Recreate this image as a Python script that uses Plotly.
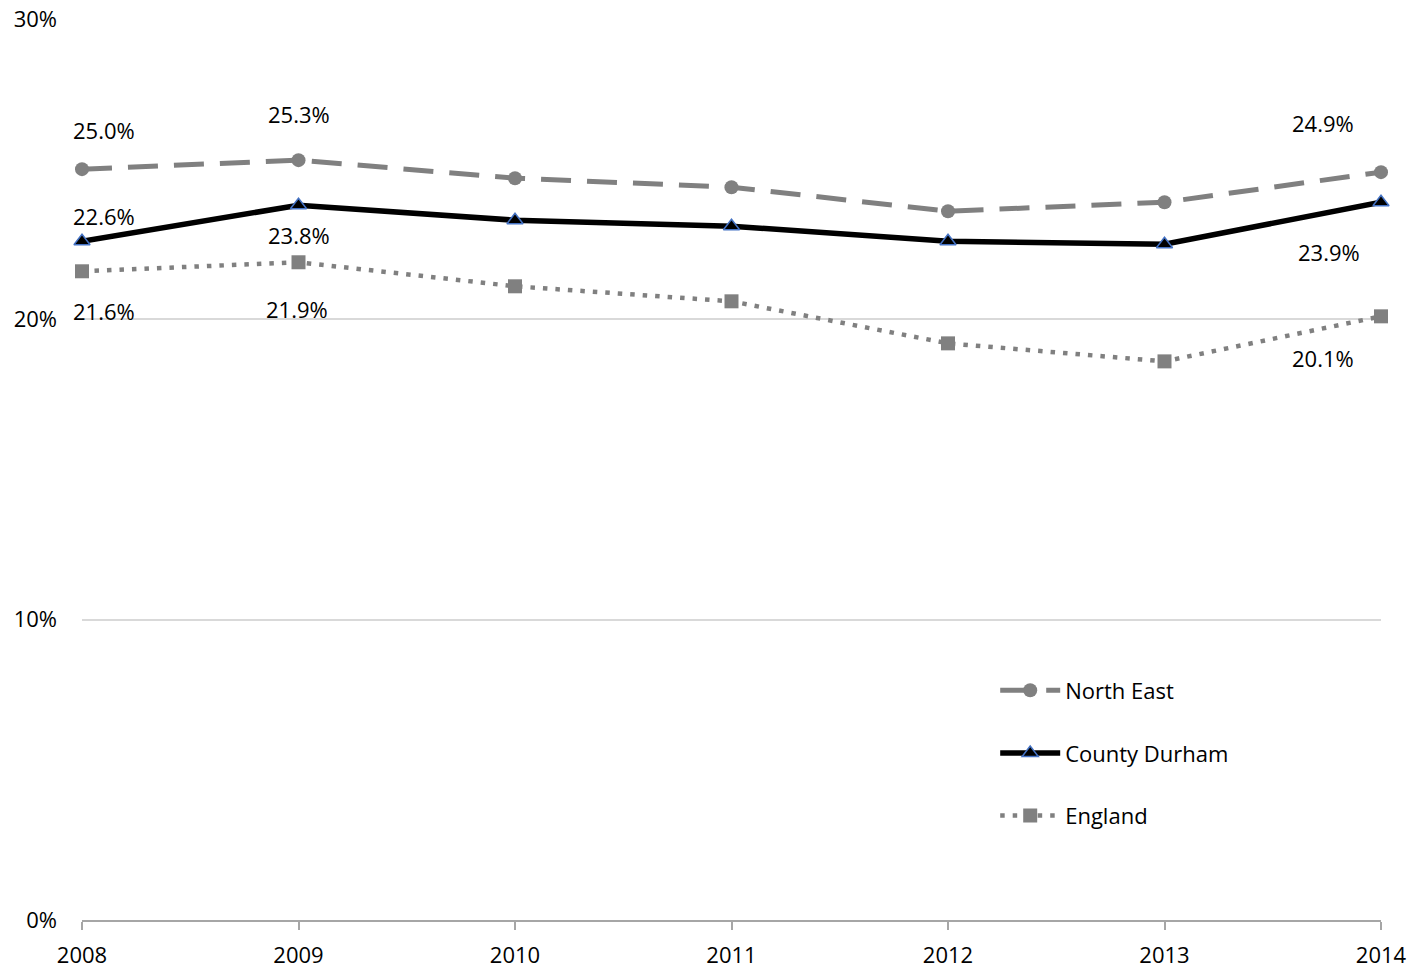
import plotly.graph_objects as go

years = [2008, 2009, 2010, 2011, 2012, 2013, 2014]
north_east = [25.0, 25.3, 24.7, 24.4, 23.6, 23.9, 24.9]
county_durham = [22.6, 23.8, 23.3, 23.1, 22.6, 22.5, 23.9]
england = [21.6, 21.9, 21.1, 20.6, 19.2, 18.6, 20.1]
y_ticks = [0, 10, 20, 30]
y_tick_labels = ["0%", "10%", "20%", "30%"]

FONT = "Open Sans"
GREY = "#808080"

fig = go.Figure()
fig.add_trace(go.Scatter(
    x=years, y=north_east, name="North East", mode="lines+markers", legendgroup="a",
    line=dict(color=GREY, width=5, dash="30px,16px"), cliponaxis=False,
    marker=dict(symbol="circle", size=14, color=GREY),
))
fig.add_trace(go.Scatter(
    x=years, y=county_durham, name="County Durham", mode="lines+markers", legendgroup="b",
    line=dict(color="black", width=5.5), cliponaxis=False,
    marker=dict(symbol="triangle-up", size=14, color="black",
                line=dict(color="#4472C4", width=1.5)),
))
fig.add_trace(go.Scatter(
    x=years, y=england, name="England", mode="lines+markers", legendgroup="c",
    line=dict(color=GREY, width=4.5, dash="4.5px,8px"), cliponaxis=False,
    marker=dict(symbol="square", size=14, color=GREY),
))

# data labels: (series, index, xshift, yshift)
label_specs = [
    (north_east, 0, 22, 39), (north_east, 1, 0, 46), (north_east, 6, -58, 49),
    (county_durham, 0, 22, 25), (county_durham, 1, 0, -30), (county_durham, 6, -52, -50),
    (england, 0, 22, -40), (england, 1, -2, -47), (england, 6, -58, -42),
]
for series, i, xs, ys in label_specs:
    fig.add_annotation(
        x=years[i], y=series[i], text=f"{series[i]:.1f}%", showarrow=False,
        xshift=xs, yshift=ys, font=dict(family=FONT, size=22, color="black"),
    )

fig.update_layout(
    width=1411, height=968,
    margin=dict(l=82, r=30, t=19, b=48, autoexpand=False),
    paper_bgcolor="white", plot_bgcolor="white",
    font=dict(family=FONT, size=22, color="black"),
    showlegend=True,
    legend=dict(
        x=0.703, y=0.278, xanchor="left", yanchor="top",
        font=dict(family=FONT, size=22, color="black"),
        tracegroupgap=31, itemwidth=60, bgcolor="rgba(0,0,0,0)",
    ),
    xaxis=dict(
        range=[2008, 2014], tickvals=years, ticktext=[str(y) for y in years],
        showgrid=False, showline=True, linecolor="#a6a6a6", linewidth=1.5,
        ticks="outside", ticklen=8, tickcolor="#a6a6a6", tickwidth=1.5,
        zeroline=False, automargin=False, ticklabelstandoff=7,
        ticklabeloverflow="allow", tickfont=dict(family=FONT, size=22),
    ),
    yaxis=dict(
        range=[0, 30], tickvals=y_ticks, ticktext=y_tick_labels,
        showgrid=True, gridcolor="#d9d9d9", gridwidth=1.5,
        showline=False, zeroline=False, ticks="", ticklabelstandoff=24,
        automargin=False, ticklabeloverflow="allow",
        tickfont=dict(family=FONT, size=22),
    ),
)

fig.write_html(
    "out.html",
    config={"displayModeBar": False},
    post_script="document.body.style.margin='0';document.body.style.overflow='hidden';",
)
